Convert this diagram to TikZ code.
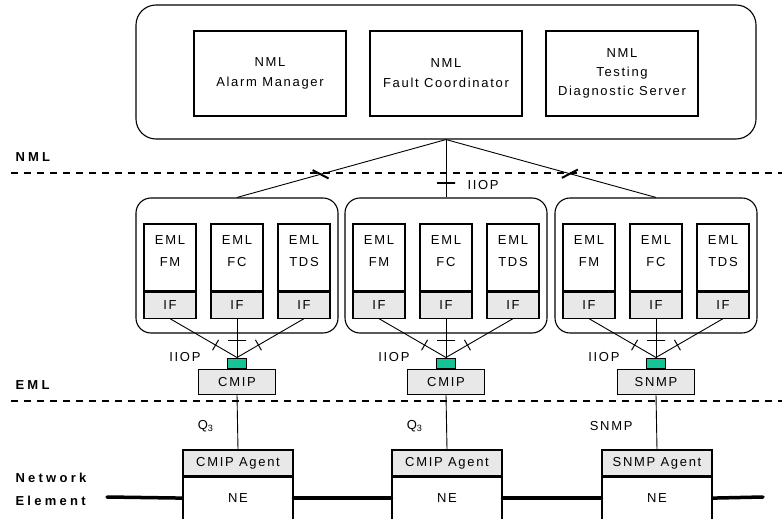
\documentclass[tikz,border=0pt]{standalone}
\usepackage{fontspec}
\setmainfont{Liberation Sans}
\newfontfamily\spaced[LetterSpace=13]{Liberation Sans}
\newfontfamily\widespaced[LetterSpace=25]{Liberation Sans}
\usetikzlibrary{positioning}

\definecolor{boxgray}{RGB}{232,232,232}
\definecolor{portgreen}{RGB}{20,195,150}

\tikzset{
  box/.style={draw, line width=1.1pt, inner sep=0pt},
  wire/.style={line width=0.9pt},
  tickmark/.style={draw, line width=1pt, inner sep=0pt, minimum width=0pt, minimum height=12pt, sloped},
}

\begin{document}
\begin{tikzpicture}[x=1pt, y=-1pt, font=\spaced\fontsize{13}{20}\selectfont,
  nml box/.style={box, rounded corners=20pt, minimum width=620pt, minimum height=134pt},
  app box/.style={box, minimum width=152pt, minimum height=85pt, align=center},
  group box/.style={box, rounded corners=15pt, minimum width=202pt, minimum height=135pt},
  eml box/.style={box, minimum width=52pt, minimum height=67pt},
  eml text/.style={align=center, font=\spaced\fontsize{13}{21.5}\selectfont},
  if box/.style={box, fill=boxgray, minimum width=52pt, minimum height=26pt},
  port/.style={box, line width=1pt, fill=portgreen, minimum width=19pt, minimum height=10pt},
  proto box/.style={box, fill=boxgray, minimum width=77pt, minimum height=25pt},
  agent box/.style={box, fill=boxgray, minimum width=110pt, minimum height=26pt},
  ne box/.style={box, minimum width=110pt, minimum height=42pt},
  layer/.style={anchor=west, align=left, font=\widespaced\bfseries\fontsize{13}{23}\selectfont},
  layer line/.style={dash pattern=on 7pt off 6pt, line width=1.3pt},
  bus/.style={line width=3.5pt, line cap=round},
]
\useasboundingbox (0,0) rectangle (782,519);

% network management layer
\node[nml box] (nml) at (446,72) {};
\node[app box] (am) at (270,73.5) {NML\\Alarm Manager};
\node[app box] (fc) at (446,73.5) {NML\\Fault Coordinator};
\node[app box, font=\spaced\fontsize{13}{19}\selectfont] (tds) at (622,73.5) {NML\\Testing\\Diagnostic Server};

% layer borders
\coordinate (nmlL) at (11,173);
\coordinate (nmlR) at (782,173);
\coordinate (emlL) at (11,401);
\coordinate (emlR) at (782,401);
\draw[layer line] (nmlL) -- (nmlR);
\draw[layer line] (emlL) -- (emlR);
\node[layer] at (12,157) {NML};
\node[layer] at (12,385.5) {EML};
\node[layer] at (12,489) {Network\\Element};

% element management layer, one group per element manager
\foreach \g/\x/\proto/\lbl in {1/237/CMIP/Q\textsubscript{3}, 2/446/CMIP/Q\textsubscript{3}, 3/656/SNMP/SNMP} {
  \node[group box] (grp\g) at (\x,265.5) {};
  \foreach \m/\dx/\name in {1/-67/FM, 2/0/FC, 3/67/TDS} {
    \node[eml box] (eml\g\m) at (\x+\dx,257.5) {};
    \node[eml text] at ([yshift=6.5pt]eml\g\m.center) {EML\\\name};
    \node[if box, below=0pt of eml\g\m] (if\g\m) {IF};
  }
  \node[port] (port\g) at (\x,363) {};
  \node[proto box, below=0pt of port\g] (proto\g) {\proto};
  \node[anchor=east] at (\x-33,357.5) {IIOP};
  \draw[wire] (if\g1.south) -- node[tickmark, pos=.68] {} (port\g.north);
  \draw[wire] (if\g2.south) -- node[tickmark, pos=.56, minimum height=18pt] {} (port\g.north);
  \draw[wire] (if\g3.south) -- node[tickmark, pos=.68] {} (port\g.north);
  % network elements
  \node[agent box] (agent\g) at (\x+1,463) {\proto{} Agent};
  \node[ne box, below=0pt of agent\g] (ne\g) {NE};
  \draw[wire] (proto\g.south) -- (agent\g.north);
  \node[anchor=east] at (\x-20,426) {\lbl};
}

% links from the NML to the element managers
\draw[wire] (nml.south) -- node[tickmark, pos=.6, line width=2pt, minimum height=18pt, rotate=47] {} (grp1.north);
\draw[wire] (nml.south) -- node[tickmark, pos=.75, line width=2pt, minimum height=18pt] {} (grp2.north);
\draw[wire] (nml.south) -- node[tickmark, pos=.59, line width=2pt, minimum height=18pt, rotate=-47] {} (grp3.north);
\node[anchor=west] at (464,185) {IIOP};

% transport between network elements
\coordinate (busL) at (107,497);
\coordinate (busR) at (763,497);
\draw[bus] (busL) -- (ne1.west);
\draw[bus] (ne1.east) -- (ne2.west);
\draw[bus] (ne2.east) -- (ne3.west);
\draw[bus] (ne3.east) -- (busR);
\end{tikzpicture}
\end{document}
